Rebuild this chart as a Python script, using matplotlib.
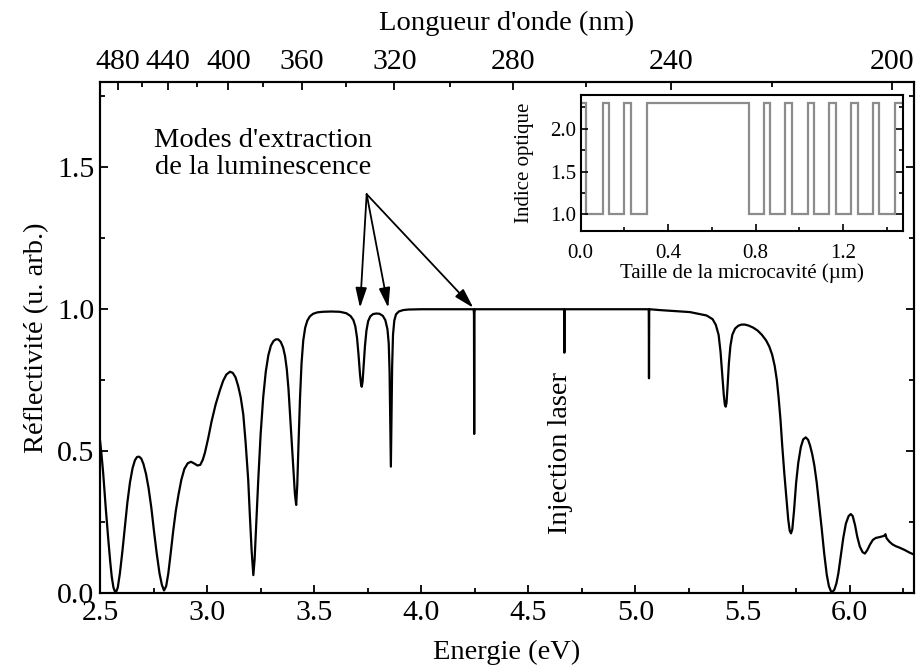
import matplotlib
matplotlib.use("Agg")
import matplotlib.pyplot as plt
from matplotlib.ticker import MultipleLocator, FixedLocator, FormatStrFormatter

plt.rcParams['font.family'] = ['Liberation Serif', 'DejaVu Serif']

# ---- main spectrum ----
energy = [2.500, 2.507, 2.515, 2.527, 2.539, 2.548, 2.555, 2.563, 2.573, 2.583,
          2.593, 2.605, 2.617, 2.628, 2.640, 2.652, 2.663, 2.673, 2.683, 2.693,
          2.703, 2.715, 2.727, 2.740, 2.752, 2.765, 2.778, 2.789, 2.799, 2.809,
          2.819, 2.830, 2.842, 2.854, 2.866, 2.880, 2.894, 2.910, 2.925, 2.940,
          2.955, 2.968, 2.980, 2.990, 3.005, 3.021, 3.040, 3.060, 3.075, 3.090,
          3.107, 3.120, 3.133, 3.145, 3.157, 3.169, 3.180, 3.192, 3.200, 3.208,
          3.216, 3.222, 3.230, 3.239, 3.250, 3.262, 3.274, 3.286, 3.298, 3.310,
          3.321, 3.332, 3.344, 3.355, 3.364, 3.372, 3.380, 3.388, 3.396, 3.404,
          3.410, 3.416, 3.421, 3.427, 3.434, 3.441, 3.449, 3.458, 3.468, 3.480,
          3.495, 3.515, 3.540, 3.580, 3.620, 3.650, 3.670, 3.683, 3.692, 3.700,
          3.707, 3.714, 3.719, 3.722, 3.726, 3.731, 3.737, 3.744, 3.752, 3.762,
          3.775, 3.790, 3.805, 3.820, 3.832, 3.842, 3.848, 3.852, 3.855, 3.858,
          3.861, 3.864, 3.868, 3.874, 3.882, 3.895, 3.915, 3.940, 4.000, 4.244,
          4.246, 4.247, 4.248, 4.250, 4.666, 4.667, 4.668, 4.669, 4.670, 5.000,
          5.061, 5.062, 5.063, 5.064, 5.065, 5.114, 5.254, 5.332, 5.360, 5.375,
          5.388, 5.397, 5.405, 5.412, 5.417, 5.421, 5.425, 5.430, 5.436, 5.443,
          5.452, 5.465, 5.480, 5.495, 5.511, 5.530, 5.550, 5.570, 5.590, 5.610,
          5.625, 5.638, 5.650, 5.660, 5.668, 5.677, 5.685, 5.695, 5.705, 5.713,
          5.720, 5.726, 5.732, 5.740, 5.750, 5.760, 5.772, 5.783, 5.795, 5.806,
          5.815, 5.825, 5.835, 5.846, 5.857, 5.869, 5.881, 5.893, 5.903, 5.912,
          5.919, 5.928, 5.938, 5.947, 5.958, 5.970, 5.982, 5.995, 6.005, 6.014,
          6.025, 6.035, 6.047, 6.060, 6.071, 6.082, 6.095, 6.108, 6.122, 6.135,
          6.149, 6.160, 6.167, 6.172, 6.185, 6.200, 6.215, 6.235, 6.258, 6.280,
          6.305]
reflect = [0.540, 0.490, 0.423, 0.300, 0.188, 0.110, 0.058, 0.020, 0.000, 0.020,
           0.070, 0.150, 0.240, 0.320, 0.390, 0.440, 0.468, 0.480, 0.481, 0.474,
           0.455, 0.420, 0.370, 0.300, 0.220, 0.140, 0.070, 0.030, 0.010, 0.025,
           0.070, 0.140, 0.220, 0.290, 0.345, 0.400, 0.438, 0.458, 0.463, 0.457,
           0.450, 0.452, 0.470, 0.495, 0.545, 0.605, 0.665, 0.715, 0.748, 0.770,
           0.780, 0.776, 0.760, 0.730, 0.690, 0.630, 0.530, 0.400, 0.270, 0.150,
           0.064, 0.120, 0.250, 0.400, 0.560, 0.690, 0.780, 0.838, 0.872, 0.888,
           0.894, 0.894, 0.885, 0.865, 0.835, 0.790, 0.720, 0.620, 0.520, 0.420,
           0.350, 0.311, 0.380, 0.530, 0.690, 0.810, 0.890, 0.935, 0.960, 0.975,
           0.984, 0.989, 0.991, 0.992, 0.991, 0.986, 0.976, 0.962, 0.940, 0.900,
           0.840, 0.770, 0.735, 0.727, 0.745, 0.800, 0.870, 0.925, 0.958, 0.975,
           0.983, 0.985, 0.984, 0.977, 0.962, 0.930, 0.880, 0.780, 0.620, 0.446,
           0.620, 0.800, 0.910, 0.960, 0.982, 0.992, 0.997, 0.999, 1.000, 1.000,
           0.985, 0.561, 0.985, 1.000, 1.000, 0.990, 0.847, 0.990, 1.000, 1.000,
           1.000, 0.990, 0.757, 0.990, 1.000, 0.997, 0.990, 0.978, 0.965, 0.945,
           0.910, 0.850, 0.770, 0.700, 0.665, 0.657, 0.670, 0.730, 0.810, 0.870,
           0.910, 0.932, 0.942, 0.946, 0.946, 0.942, 0.935, 0.925, 0.910, 0.890,
           0.868, 0.840, 0.800, 0.750, 0.690, 0.610, 0.520, 0.420, 0.330, 0.260,
           0.220, 0.211, 0.225, 0.290, 0.390, 0.460, 0.515, 0.542, 0.549, 0.540,
           0.520, 0.490, 0.450, 0.390, 0.315, 0.230, 0.140, 0.065, 0.025, 0.008,
           0.005, 0.012, 0.035, 0.070, 0.130, 0.195, 0.245, 0.272, 0.279, 0.272,
           0.240, 0.200, 0.165, 0.145, 0.140, 0.152, 0.172, 0.188, 0.195, 0.197,
           0.200, 0.202, 0.208, 0.194, 0.182, 0.172, 0.166, 0.160, 0.152, 0.143,
           0.135]

# ---- top axis wavelengths (nm) ----
wl_major = [480, 440, 400, 360, 320, 280, 240, 200]
wl_minor = [460, 420, 380, 340, 300, 260, 220]
HC = 1239.84

# ---- inset: refractive index profile ----
layer_edges = [0, 0.024, 0.100, 0.131, 0.199, 0.229, 0.301, 0.768, 0.838, 0.865,
               0.935, 0.965, 1.037, 1.066, 1.136, 1.166, 1.236, 1.267, 1.335, 1.365,
               1.437, 1.475]
layer_index = [2.3, 1.0, 2.3, 1.0, 2.3, 1.0, 2.3, 1.0, 2.3, 1.0,
               2.3, 1.0, 2.3, 1.0, 2.3, 1.0, 2.3, 1.0, 2.3, 1.0, 2.3]

FS = 20.5
TFS = 21.5
fig = plt.figure(figsize=(9.18, 6.72), dpi=100)
ax = fig.add_axes([0.1089, 0.1171, 0.8867, 0.7609])
ax.plot(energy, reflect, color='black', lw=1.6)
ax.set_xlim(2.5, 6.3)
ax.set_ylim(0, 1.8)
ax.xaxis.set_major_locator(MultipleLocator(0.5))
ax.xaxis.set_minor_locator(MultipleLocator(0.25))
ax.yaxis.set_major_locator(FixedLocator([0.0, 0.5, 1.0, 1.5]))
ax.yaxis.set_minor_locator(FixedLocator([0.25, 0.75, 1.25, 1.75]))
ax.xaxis.set_major_formatter(FormatStrFormatter('%.1f'))
ax.yaxis.set_major_formatter(FormatStrFormatter('%.1f'))
ax.tick_params(which='both', direction='in', right=True, top=False, width=1.3,
               labelsize=TFS)
ax.tick_params(which='major', length=6)
ax.tick_params(which='minor', length=3.5)
ax.tick_params(axis='x', pad=5)
ax.tick_params(axis='y', pad=4)
for s in ax.spines.values():
    s.set_linewidth(1.5)
ax.set_xlabel('Energie (eV)', fontsize=FS, labelpad=10)
ax.set_ylabel('Réflectivité (u. arb.)', fontsize=FS, labelpad=6)

axt = ax.twiny()
axt.set_xlim(ax.get_xlim())
axt.xaxis.set_major_locator(FixedLocator([HC / w for w in wl_major]))
axt.xaxis.set_minor_locator(FixedLocator([HC / w for w in wl_minor]))
axt.set_xticklabels([str(w) for w in wl_major])
axt.tick_params(which='both', direction='in', width=1.3, labelsize=TFS, pad=5)
axt.tick_params(which='major', length=6)
axt.tick_params(which='minor', length=3.5)
axt.set_xlabel("Longueur d'onde (nm)", fontsize=FS, labelpad=14)
for s in axt.spines.values():
    s.set_linewidth(1.5)

# annotations
ax.text(3.261, 1.545, "Modes d'extraction\nde la luminescence", fontsize=FS,
        ha='center', va='center', linespacing=1.1)
origin = (3.745, 1.405)
for tip in [(3.714, 1.005), (3.846, 1.005), (4.243, 1.005)]:
    ax.annotate('', xy=tip, xytext=origin,
                arrowprops=dict(arrowstyle='-|>,head_length=0.6,head_width=0.17',
                                color='black', lw=1.3, shrinkA=0, shrinkB=0,
                                mutation_scale=20))
ax.text(4.648, 0.494, 'Injection laser', fontsize=FS, rotation=90,
        ha='center', va='center')

# inset
axi = fig.add_axes([0.6326, 0.6558, 0.3514, 0.2033])
axi.stairs(layer_index, layer_edges, baseline=None, color='#8c8c8c', lw=1.6)
axi.set_xlim(0, 1.475)
axi.set_ylim(0.8, 2.4)
axi.xaxis.set_major_locator(MultipleLocator(0.4))
axi.xaxis.set_minor_locator(MultipleLocator(0.2))
axi.yaxis.set_major_locator(MultipleLocator(0.5))
axi.yaxis.set_minor_locator(MultipleLocator(0.25))
axi.xaxis.set_major_formatter(FormatStrFormatter('%.1f'))
axi.yaxis.set_major_formatter(FormatStrFormatter('%.1f'))
axi.tick_params(which='both', direction='in', right=True, width=1.2, labelsize=15)
axi.tick_params(which='major', length=5)
axi.tick_params(which='minor', length=3)
axi.tick_params(axis='x', pad=9)
for s in axi.spines.values():
    s.set_linewidth(1.5)
axi.set_xlabel('Taille de la microcavité (µm)', fontsize=15, labelpad=0)
axi.set_ylabel('Indice optique', fontsize=15, labelpad=11)

fig.savefig('out.png', dpi=100)
